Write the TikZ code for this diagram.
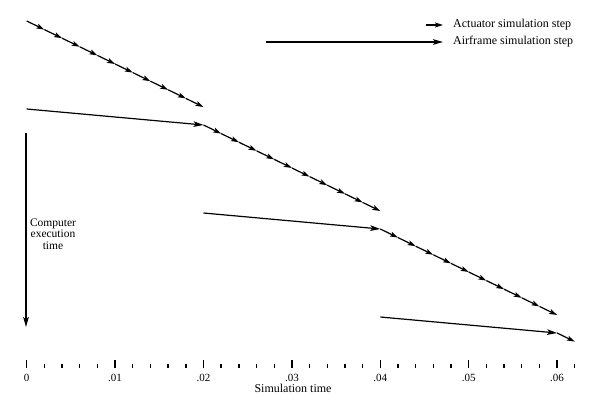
\documentclass[tikz,border=0pt]{standalone}
\usepackage{fontspec}
\setmainfont{Liberation Serif}
\usepackage{tikz}
\usetikzlibrary{arrows.meta,positioning}

\begin{document}
\begin{tikzpicture}[x=1pt, y=-1pt,
    act/.style={-{Stealth[length=8pt, width=5pt, inset=1.8pt]}, line width=1.2pt},
    air/.style={-{Stealth[length=10pt, width=5.6pt, inset=2.2pt]}, line width=1.2pt},
    lbl/.style={font=\fontsize{12}{13}\selectfont, inner sep=1pt},
    tlbl/.style={font=\fontsize{11}{12}\selectfont, inner sep=1pt},
    tick/.style={line width=1.4pt}
  ]
    \useasboundingbox (0,0) rectangle (589,396);

    % actuator steps: three groups of ten, 0.002 each
    \foreach \g/\ys in {0/21, 1/125, 2/229} {
      \foreach \i in {0,...,10} {
        \pgfmathsetmacro\xa{26.7+17.68*(10*\g+\i)}
        \pgfmathsetmacro\ya{\ys+8.6*\i}
        \coordinate (a\g-\i) at (\xa,\ya);
      }
      \foreach \i in {1,...,10} {
        \pgfmathtruncatemacro\j{\i-1}
        \draw[act] (a\g-\j) -- (a\g-\i);
      }
    }

    % airframe steps, 0.02 each
    \coordinate (f0) at (26.7,109);
    \coordinate (f1) at (203.5,213);
    \coordinate (f2) at (380.3,317);
    \coordinate (fend) at (557.1,333);
    \coordinate (alast) at (574.8,341.6);
    \draw[air] (f0) -- (a1-0);
    \draw[air] (f1) -- (a2-0);
    \draw[air] (f2) -- (fend);
    \draw[act] (fend) -- (alast);

    % execution time axis
    \coordinate (vtop) at (26,133);
    \coordinate (vbot) at (26,327);
    \draw[air] (vtop) -- (vbot);
    \node[lbl, align=center, font=\fontsize{11.5}{11.5}\selectfont] (cet) at (53,234) {Computer\\execution\\time};

    % simulation time axis
    \foreach \k in {0,...,31} {
      \pgfmathsetmacro\xt{26.7+17.68*\k}
      \pgfmathtruncatemacro\m{mod(\k,5)}
      \ifnum\m=0
        \draw[tick] (\xt,360) -- (\xt,368);
      \else
        \draw[tick] (\xt,363.5) -- (\xt,368);
      \fi
    }
    \node[tlbl] (t0) at (26.7,378) {0};
    \node[tlbl] (t1) at (115.1,378) {.01};
    \node[tlbl] (t2) at (203.5,378) {.02};
    \node[tlbl] (t3) at (291.9,378) {.03};
    \node[tlbl] (t4) at (380.3,378) {.04};
    \node[tlbl] (t5) at (468.7,378) {.05};
    \node[tlbl] (t6) at (557.1,378) {.06};
    \node[lbl] (simt) at (293,388.5) {Simulation time};

    % legend
    \node[lbl, anchor=west] (actleg) at (452,25) {Actuator simulation step};
    \node[lbl, anchor=west] (airleg) at (452,42) {Airframe simulation step};
    \coordinate[left=9pt of actleg] (acthead);
    \coordinate[left=26pt of actleg] (acttail);
    \coordinate[left=9pt of airleg] (airhead);
    \coordinate[left=186pt of airleg] (airtail);
    \draw[act] (acttail) -- (acthead);
    \draw[air] (airtail) -- (airhead);
  \end{tikzpicture}
\end{document}
